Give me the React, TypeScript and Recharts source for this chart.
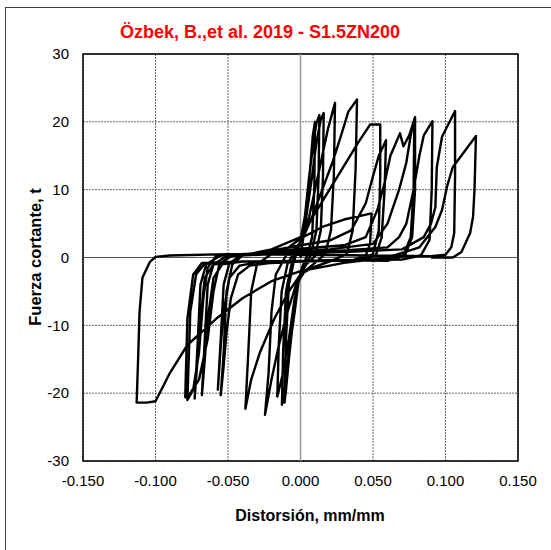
import React from 'react';
import {
  LineChart, Line, XAxis, YAxis, CartesianGrid, ReferenceLine, ReferenceArea,
} from 'recharts';

type Pt = [number, number];

// one array per load cycle (distorsión mm/mm, fuerza t)
const cycle1: Pt[] = [
  [0, 0], [0.002, 3], [0.005, 9], [0.007, 14], [0.0085, 18], [0.010, 20.0], [0.0095, 10], [0.008, 3],
  [0.005, 0.5], [0.001, -1.5], [-0.002, -4], [-0.005, -9], [-0.008, -15], [-0.010, -19.5], [-0.011, -21.4],
  [-0.010, -12], [-0.008, -4], [-0.005, -1], [-0.002, 1.2], [0.0, 2.6],
];
const cycle2: Pt[] = [
  [0.003, 6], [0.006, 12], [0.009, 17], [0.011, 19.8], [0.013, 21.0], [0.0125, 12], [0.011, 4], [0.007, 0.3],
  [0.002, -1.5], [-0.001, -3], [-0.004, -8], [-0.008, -14], [-0.011, -19.5], [-0.0128, -21.7], [-0.012, -14],
  [-0.010, -5], [-0.006, -0.8], [-0.002, 1.5], [0.001, 2.8],
];
const cycle3: Pt[] = [
  [0.004, 6], [0.008, 12], [0.011, 17], [0.014, 20.3], [0.016, 21.3], [0.0155, 12], [0.014, 4], [0.010, 0.2],
  [0.004, -1.0], [0.0, -2.5], [-0.004, -6], [-0.008, -12], [-0.012, -17], [-0.016, -20.5], [-0.015, -13],
  [-0.013, -5], [-0.009, -1], [-0.004, 1], [0.0, 2.3],
];
const cycle4: Pt[] = [
  [0.006, 6], [0.011, 11], [0.015, 15], [0.019, 19], [0.0238, 22.8], [0.023, 12], [0.021, 4], [0.017, 0.5],
  [0.010, -0.8], [0.003, -2], [-0.003, -4], [-0.009, -8], [-0.015, -13], [-0.020, -18], [-0.0245, -23.2],
  [-0.022, -17], [-0.020, -8], [-0.017, -2.5], [-0.010, 0.3], [-0.003, 1.5], [0.001, 2.5],
];
const cycle5: Pt[] = [
  [0.008, 6], [0.015, 10], [0.022, 14], [0.028, 18], [0.033, 21.5], [0.039, 23.3], [0.038, 13], [0.036, 4],
  [0.032, 0.5], [0.020, -0.6], [0.008, -1.5], [0.0, -2.5], [-0.008, -5], [-0.018, -9], [-0.028, -14],
  [-0.034, -18], [-0.038, -22.3], [-0.036, -14], [-0.034, -5], [-0.030, -1], [-0.020, 0.5], [-0.008, 1.5],
  [0.0, 2.8], [0.015, 4.5], [0.030, 5.6], [0.049, 6.5], [0.048, 2], [0.045, 0.3], [0.035, -0.5],
];
const cycle6: Pt[] = [
  [0.020, -0.5], [0.0, -0.6], [-0.020, -0.8], [-0.035, -1.2], [-0.043, -2.5], [-0.048, -6], [-0.051, -11],
  [-0.053, -16], [-0.055, -20.3], [-0.053, -14], [-0.051, -5], [-0.047, -1], [-0.040, 0.3], [-0.020, 1.2],
  [0.0, 3], [0.010, 6.5], [0.020, 10], [0.030, 13.5], [0.040, 17], [0.048, 19.6], [0.055, 19.6], [0.055, 12],
  [0.054, 4], [0.050, 0.5], [0.040, -0.4],
];
const cycle7: Pt[] = [
  [0.020, -0.5], [0.0, -0.6], [-0.030, -0.7], [-0.042, -1.2], [-0.049, -3], [-0.053, -8], [-0.055, -13],
  [-0.057, -19.5], [-0.055, -12], [-0.053, -4], [-0.049, -0.8], [-0.040, 0.4], [-0.020, 1], [0.0, 1.8],
  [0.020, 2.5], [0.035, 4], [0.045, 8], [0.050, 12], [0.054, 15], [0.059, 17.3], [0.058, 10], [0.056, 3],
  [0.052, 0.3], [0.040, -0.5],
];
const cycle8: Pt[] = [
  [0.020, -0.4], [0.0, -0.5], [-0.040, -0.6], [-0.054, -1], [-0.060, -3], [-0.064, -9], [-0.066, -15],
  [-0.068, -20.3], [-0.066, -12], [-0.064, -4], [-0.060, -1], [-0.050, 0.3], [-0.020, 0.8], [0.0, 1.3],
  [0.030, 1.8], [0.045, 3], [0.053, 7], [0.058, 11], [0.062, 15], [0.0686, 18.3], [0.071, 16.4], [0.075, 18],
  [0.079, 20.7], [0.079, 10], [0.077, 3], [0.072, 0.3], [0.060, -0.5],
];
const cycle9: Pt[] = [
  [0.030, -0.4], [0.0, -0.5], [-0.040, -0.6], [-0.060, -1], [-0.066, -3], [-0.069, -9], [-0.071, -15],
  [-0.073, -20.8], [-0.071, -13], [-0.069, -4], [-0.065, -1], [-0.055, 0.3], [-0.020, 0.7], [0.020, 1.2],
  [0.050, 2], [0.060, 5], [0.068, 10], [0.073, 14], [0.076, 18], [0.0785, 20.4], [0.078, 10], [0.076, 3],
  [0.071, 0.3], [0.060, -0.4],
];
const cycle10: Pt[] = [
  [0.030, -0.4], [0.0, -0.5], [-0.040, -0.6], [-0.066, -0.9], [-0.072, -2.5], [-0.076, -8], [-0.078, -21.0],
  [-0.074, -19.5], [-0.070, -14], [-0.067, -6], [-0.064, -1.5], [-0.058, 0.3], [-0.030, 0.6], [0.020, 0.9],
  [0.060, 1.5], [0.068, 3], [0.073, 5], [0.078, 10], [0.082, 15], [0.085, 18], [0.091, 20.1], [0.0905, 10],
  [0.089, 2.6], [0.083, 0.3], [0.070, -0.3],
];
const cycle11: Pt[] = [
  [0.030, -0.4], [0.0, -0.5], [-0.040, -0.6], [-0.068, -0.8], [-0.074, -2.5], [-0.078, -9], [-0.0795, -20.6],
  [-0.076, -20], [-0.070, -18], [-0.064, -12], [-0.060, -5], [-0.056, -1], [-0.048, 0.2], [-0.020, 0.5],
  [0.030, 0.8], [0.070, 1.2], [0.085, 3], [0.090, 5], [0.093, 7.4], [0.094, 13.3], [0.0976, 17.8],
  [0.1066, 21.6], [0.1066, 12], [0.106, 3.6], [0.104, 1.5], [0.100, 0.4], [0.090, 0.2],
];
const cycle12: Pt[] = [
  [0.050, 0.3], [0.0, 0.4], [-0.050, 0.5], [-0.090, 0.3], [-0.100, 0.1], [-0.104, -0.7], [-0.109, -3],
  [-0.111, -8], [-0.112, -15], [-0.113, -21.4], [-0.106, -21.4], [-0.100, -21.2], [-0.090, -17],
  [-0.078, -12.9], [-0.058, -9], [-0.040, -6], [-0.020, -3.5], [0.0, -2.0], [0.030, -0.8], [0.060, 0],
  [0.082, 1.5], [0.093, 4.5], [0.0976, 7], [0.101, 10.4], [0.105, 13.3], [0.121, 17.9], [0.120, 10],
  [0.119, 6], [0.117, 3.6], [0.111, 0.8], [0.105, 0], [0.090, 0],
];

const xTicks = [-0.15, -0.1, -0.05, 0, 0.05, 0.1, 0.15];
const yTicks = [-30, -20, -10, 0, 10, 20, 30];

const data = [
  ...cycle1, ...cycle2, ...cycle3, ...cycle4, ...cycle5, ...cycle6,
  ...cycle7, ...cycle8, ...cycle9, ...cycle10, ...cycle11, ...cycle12,
].map(([x, y]) => ({ x, y }));

const font = '"Liberation Sans", Arial, sans-serif';
const tickStyle = { fontSize: 15, fill: '#000', fontFamily: font };

export default function App() {
  return (
    <div style={{ position: 'absolute', left: 0, top: 0, width: 551, height: 550, overflow: 'hidden', background: '#fff' }}>
      <div style={{ position: 'absolute', left: 5, top: 7, width: 700, height: 700, border: '1px solid #404040' }} />
      <div style={{
        position: 'absolute', left: 0, width: 520, top: 22, textAlign: 'center',
        color: '#ff0000', fontWeight: 'bold', fontSize: 18, fontFamily: font,
      }}>
        Özbek, B.,et al. 2019 - S1.5ZN200
      </div>
      <div style={{ position: 'absolute', left: 0, top: 0 }}>
        <LineChart width={551} height={550} data={data} margin={{ top: 54, right: 33, bottom: 59, left: 0 }}>
          <CartesianGrid stroke="#666" strokeDasharray="2 1" />
          <XAxis
            dataKey="x" type="number" domain={[-0.15, 0.15]} ticks={xTicks} allowDataOverflow
            tickFormatter={(v: number) => v.toFixed(3)} tick={tickStyle} tickLine={false}
            tickSize={0} tickMargin={14} height={30} axisLine={false}
          />
          <YAxis
            type="number" domain={[-30, 30]} ticks={yTicks} allowDataOverflow tick={tickStyle}
            tickLine={false} tickSize={0} tickMargin={14} width={83} axisLine={false}
          />
          <ReferenceLine x={0} stroke="#999" strokeWidth={1.5} />
          <ReferenceLine y={0} stroke="#555" strokeWidth={1.2} />
          <ReferenceArea x1={-0.15} x2={0.15} y1={-30} y2={30} fill="none" stroke="#000" strokeWidth={1.5} />
          <Line
            dataKey="y" type="linear" stroke="#000" strokeWidth={2.4} dot={false}
            isAnimationActive={false} strokeLinejoin="round"
          />
        </LineChart>
      </div>
      <div style={{
        position: 'absolute', left: 0, width: 620, top: 507, textAlign: 'center',
        fontWeight: 'bold', fontSize: 16, fontFamily: font, color: '#000',
      }}>
        Distorsión, mm/mm
      </div>
      <div style={{
        position: 'absolute', left: 35, top: 257, width: 200, marginLeft: -100, marginTop: -10,
        textAlign: 'center', transform: 'rotate(-90deg)', fontWeight: 'bold', fontSize: 16.5,
        fontFamily: font, color: '#000', lineHeight: '20px',
      }}>
        Fuerza cortante, t
      </div>
    </div>
  );
}
